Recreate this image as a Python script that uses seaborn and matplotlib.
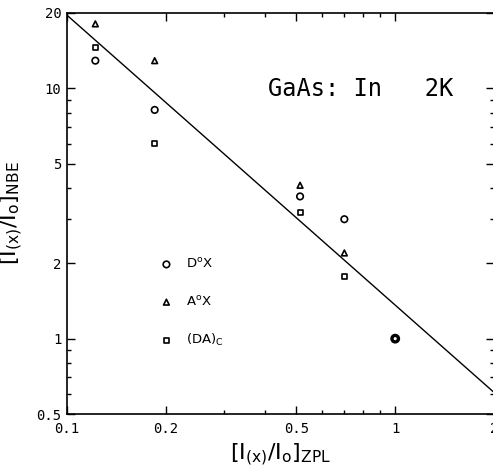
import seaborn as sns
import matplotlib.pyplot as plt
import pandas as pd

# values
x_levels = [0.122, 0.185, 0.513, 0.70]
donor_y = [12.9, 8.2, 3.7, 3.0]        # D0X  (circles)
acceptor_y = [18.1, 12.9, 4.1, 2.2]    # A0X  (triangles)
da_y = [14.5, 6.0, 3.2, 1.77]          # (DA)C (squares)
ref_x = [1.0]
ref_y = [1.0]
fit_x = [0.1, 2.0]
fit_y = [19.6, 0.61]

x_ticks = [0.1, 0.2, 0.5, 1, 2]
x_ticklabels = ["0.1", "0.2", "0.5", "1", "2"]
y_ticks = [0.5, 1, 2, 5, 10, 20]
y_ticklabels = ["0.5", "1", "2", "5", "10", "20"]

df = pd.DataFrame({
    "x": x_levels * 3,
    "y": donor_y + acceptor_y + da_y,
    "line": ["D0X"] * 4 + ["A0X"] * 4 + ["DAC"] * 4,
})

sns.set_style("ticks")
plt.rcParams["font.family"] = ["DejaVu Sans"]
plt.rcParams["text.color"] = "black"
plt.rcParams["axes.labelcolor"] = "black"
plt.rcParams["xtick.color"] = "black"
plt.rcParams["ytick.color"] = "black"
plt.rcParams["axes.edgecolor"] = "black"

fig = plt.figure(figsize=(4.93, 4.76), dpi=100)
ax = fig.add_axes([67 / 493, 62 / 476, 427 / 493, 401 / 476])

styles = {
    "D0X": ("o", 22, r"D$^{\mathregular{o}}$X"),
    "A0X": ("^", 17, r"A$^{\mathregular{o}}$X"),
    "DAC": ("s", 13, r"(DA)$_{\mathregular{C}}$"),
}
for key, (mk, size, lab) in styles.items():
    sub = df[df["line"] == key]
    sns.scatterplot(x=sub["x"], y=sub["y"], marker=mk, s=size, color="black",
                    facecolor="none", edgecolor="black", linewidth=1.2,
                    label=lab, ax=ax)

# normalisation point (all series coincide)
sns.scatterplot(x=ref_x, y=ref_y, marker="o", s=22, color="black",
                facecolor="none", edgecolor="black", linewidth=2.4, ax=ax)

sns.lineplot(x=fit_x, y=fit_y, color="black", linewidth=1.0, ax=ax)

ax.set_xscale("log")
ax.set_yscale("log")
ax.set_xlim(0.1, 2)
ax.set_ylim(0.5, 20)
ax.set_xticks(x_ticks)
ax.set_xticklabels(x_ticklabels, family="DejaVu Sans Mono", fontsize=10)
ax.set_yticks(y_ticks)
ax.set_yticklabels(y_ticklabels, family="DejaVu Sans Mono", fontsize=10)
ax.tick_params(which="both", direction="in", top=True, right=True, width=1)
ax.tick_params(which="major", length=6, pad=4)
ax.tick_params(which="minor", length=3)
ax.tick_params(axis="x", which="major", pad=6)
for sp in ax.spines.values():
    sp.set_linewidth(1.2)

ax.set_xlabel(r"[I$_{\mathregular{(x)}}$/I$_{\mathregular{o}}$]$_{\mathregular{ZPL}}$",
              fontsize=16, labelpad=4)
ax.set_ylabel(r"[I$_{\mathregular{(x)}}$/I$_{\mathregular{o}}$]$_{\mathregular{NBE}}$",
              fontsize=16, labelpad=8)

ax.text(0.47, 0.81, "GaAs: In   2K", transform=ax.transAxes,
        family="DejaVu Sans Mono", fontsize=17, va="center", ha="left")

ax.legend(loc="upper left", bbox_to_anchor=(0.205, 0.405), frameon=False,
          fontsize=9.5, labelspacing=1.8, handletextpad=1.0, handlelength=1.0,
          borderaxespad=0)

plt.savefig("out.png", dpi=100)
